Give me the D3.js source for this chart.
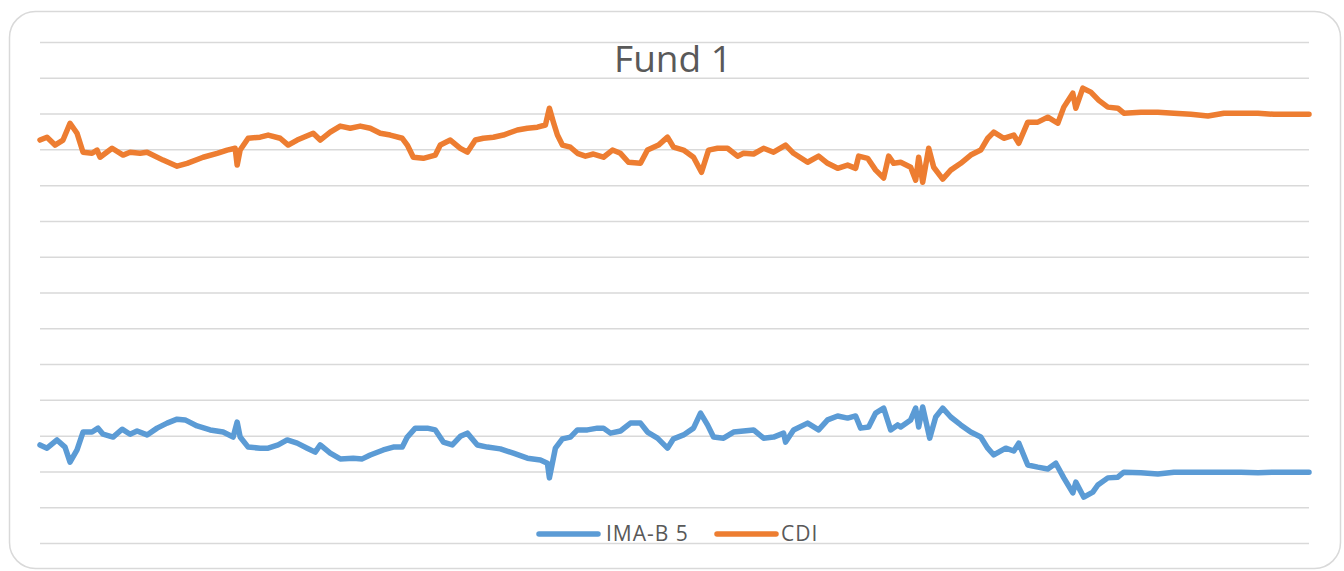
<!DOCTYPE html>
<html>
<head>
<meta charset="utf-8">
<script src="https://cdn.jsdelivr.net/npm/d3@7"></script>
<style>
  body { margin: 0; background: #fff; }
  .grid line { stroke: #d9d9d9; stroke-width: 1.5; }
  .grid .domain { display: none; }
  .grid text { display: none; }
</style>
</head>
<body>
<div class="chart"></div>
<script>
var svgWidth = 1344;
var svgHeight = 571;

var margin = { top: 42, right: 35, bottom: 28, left: 40 };
var width = 1309 - margin.left;
var height = 543 - margin.top;

// trading-day index and value
var cdiDay = [0, 7, 15, 23, 30, 37, 43, 52, 57, 60, 72, 83, 90, 100, 107, 123, 137, 147, 163, 177, 187, 195, 197, 200, 208, 220, 228, 240, 248, 257, 273, 280, 290, 300, 310, 320, 330, 340, 350, 362, 367, 373, 383, 395, 400, 410, 420, 427,
  435, 443, 453, 463, 477, 487, 497, 505, 509, 513, 517, 522, 530, 537, 545, 553, 563, 572, 580, 588, 600, 607, 618, 627, 633, 643, 653, 661, 668, 677, 687, 697, 703, 713, 723, 733, 745, 753, 767, 778, 787, 797, 807, 815, 818, 827, 835, 843, 848, 853, 860,
  870, 875, 878, 882, 888, 893, 902, 910, 920, 930, 940, 947, 953, 963, 973, 978, 987, 997, 1007, 1017, 1023, 1032, 1035, 1042, 1050, 1058, 1067, 1077, 1083, 1100, 1117, 1133, 1150, 1167, 1183, 1200, 1217, 1233, 1250, 1268];
var cdiValue = [11.26, 11.34, 11.12, 11.26, 11.73, 11.45, 10.92, 10.89, 10.98, 10.78, 11.03, 10.84, 10.92, 10.89, 10.92, 10.70, 10.53, 10.61, 10.78, 10.89, 10.98, 11.03, 10.56, 10.98, 11.31, 11.34, 11.40, 11.31, 11.12, 11.26, 11.45, 11.26, 11.48, 11.65, 11.59, 11.65, 11.59, 11.45, 11.40, 11.31, 11.12, 10.78, 10.75, 10.84, 11.12, 11.26, 11.03, 10.92,
  11.26, 11.31, 11.34, 11.40, 11.54, 11.59, 11.62, 11.68, 12.15, 11.76, 11.40, 11.12, 11.06, 10.89, 10.81, 10.87, 10.78, 10.98, 10.89, 10.64, 10.61, 10.98, 11.12, 11.34, 11.06, 10.98, 10.78, 10.36, 10.98, 11.03, 11.03, 10.81, 10.89, 10.87, 11.03, 10.92, 11.12, 10.89, 10.64, 10.81, 10.61, 10.47, 10.56, 10.47, 10.81, 10.75, 10.42, 10.20, 10.81, 10.61, 10.64,
  10.50, 10.14, 10.78, 10.08, 11.03, 10.50, 10.17, 10.42, 10.61, 10.84, 10.98, 11.31, 11.48, 11.31, 11.40, 11.17, 11.76, 11.76, 11.90, 11.73, 12.18, 12.57, 12.15, 12.71, 12.60, 12.37, 12.18, 12.15, 12.01, 12.04, 12.04, 12.01, 11.98, 11.93, 12.01, 12.01, 12.01, 11.98, 11.98, 11.98];

var imaDay = [0, 7, 17, 25, 30, 37, 43, 52, 58, 63, 73, 82, 90, 97, 107, 117, 127, 137, 145, 157, 170, 183, 193, 197, 200, 208, 220, 228, 238, 247, 257, 267, 275, 280, 290, 300, 313, 322, 330, 343, 353, 362, 367, 375, 387, 395, 403, 412,
  420, 427, 437, 447, 460, 473, 487, 500, 507, 509, 515, 522, 530, 537, 547, 557, 563, 570, 580, 590, 600, 607, 617, 627, 633, 643, 653, 660, 667, 673, 683, 693, 703, 713, 723, 733, 743, 745, 753, 767, 778, 787, 797, 807, 815, 820, 828, 835, 843, 850, 857,
  860, 870, 875, 878, 882, 889, 895, 902, 910, 920, 930, 940, 947, 953, 965, 973, 978, 987, 997, 1007, 1015, 1023, 1032, 1035, 1043, 1052, 1057, 1067, 1077, 1083, 1100, 1117, 1133, 1150, 1167, 1183, 1200, 1217, 1233, 1250, 1268];
var imaValue = [2.74, 2.65, 2.88, 2.68, 2.26, 2.60, 3.10, 3.10, 3.21, 3.04, 2.96, 3.18, 3.04, 3.13, 3.02, 3.21, 3.35, 3.46, 3.44, 3.27, 3.16, 3.10, 2.96, 3.38, 2.96, 2.68, 2.65, 2.65, 2.74, 2.88, 2.79, 2.65, 2.54, 2.74, 2.51, 2.35, 2.37, 2.35, 2.46, 2.60, 2.68, 2.68, 2.96, 3.21, 3.21, 3.16, 2.82, 2.74,
  2.98, 3.07, 2.74, 2.68, 2.63, 2.51, 2.37, 2.32, 2.23, 1.82, 2.65, 2.91, 2.96, 3.16, 3.16, 3.21, 3.21, 3.07, 3.13, 3.35, 3.35, 3.10, 2.93, 2.65, 2.91, 3.02, 3.21, 3.63, 3.30, 2.96, 2.93, 3.10, 3.13, 3.16, 2.93, 2.96, 3.07, 2.82, 3.16, 3.35, 3.16, 3.44, 3.55, 3.49, 3.55, 3.21, 3.24, 3.63, 3.77, 3.16, 3.30,
  3.24, 3.44, 3.77, 3.24, 3.80, 2.93, 3.52, 3.77, 3.52, 3.30, 3.10, 2.96, 2.65, 2.46, 2.65, 2.57, 2.79, 2.18, 2.12, 2.07, 2.23, 1.82, 1.40, 1.70, 1.28, 1.42, 1.62, 1.82, 1.84, 1.98, 1.96, 1.93, 1.98, 1.98, 1.98, 1.98, 1.98, 1.96, 1.98, 1.98, 1.98];

var gridTicks = d3.range(0, 15);
var seriesNames = ["IMA-B 5", "CDI"];
var seriesColors = ["#5b9bd5", "#ed7d31"];

var svg = d3.select(".chart")
  .append("svg")
  .attr("width", svgWidth)
  .attr("height", svgHeight)
  .style("font-family", "'Open Sans', sans-serif");

// outer chart frame
svg.append("rect")
  .attr("x", 9.5)
  .attr("y", 11.5)
  .attr("width", 1331)
  .attr("height", 557)
  .attr("rx", 26)
  .attr("fill", "#fff")
  .attr("stroke", "#d9d9d9")
  .attr("stroke-width", 1.5);

var chartGroup = svg.append("g")
  .attr("transform", `translate(${margin.left}, ${margin.top})`);

var xLinearScale = d3.scaleLinear()
  .domain([0, 1268])
  .range([0, width]);

var yLinearScale = d3.scaleLinear()
  .domain([0, 14])
  .range([height, 0]);

// horizontal gridlines
chartGroup.append("g")
  .attr("class", "grid")
  .call(d3.axisLeft(yLinearScale).tickValues(gridTicks).tickSize(-width).tickFormat(""));

var line = d3.line()
  .x(d => xLinearScale(d[0]))
  .y(d => yLinearScale(d[1]));

var imaData = d3.zip(imaDay, imaValue);
var cdiData = d3.zip(cdiDay, cdiValue);

[imaData, cdiData].forEach(function(data, i) {
  chartGroup.append("path")
    .datum(data)
    .attr("fill", "none")
    .attr("stroke", seriesColors[i])
    .attr("stroke-width", 5.5)
    .attr("stroke-linejoin", "round")
    .attr("stroke-linecap", "round")
    .attr("d", line);
});

// title
svg.append("text")
  .attr("x", 673)
  .attr("y", 72)
  .attr("text-anchor", "middle")
  .attr("fill", "#595959")
  .style("font-size", "37px")
  .text("Fund 1");

// legend
var legendX = [539, 717];
seriesNames.forEach(function(name, i) {
  svg.append("line")
    .attr("x1", legendX[i])
    .attr("x2", legendX[i] + 59)
    .attr("y1", 534)
    .attr("y2", 534)
    .attr("stroke", seriesColors[i])
    .attr("stroke-width", 5.5)
    .attr("stroke-linecap", "round");
  svg.append("text")
    .attr("x", legendX[i] + (i == 0 ? 67 : 64))
    .attr("y", 541)
    .attr("fill", "#595959")
    .style("font-size", "21px")
    .style("letter-spacing", "1px")
    .text(name);
});
</script>
</body>
</html>
